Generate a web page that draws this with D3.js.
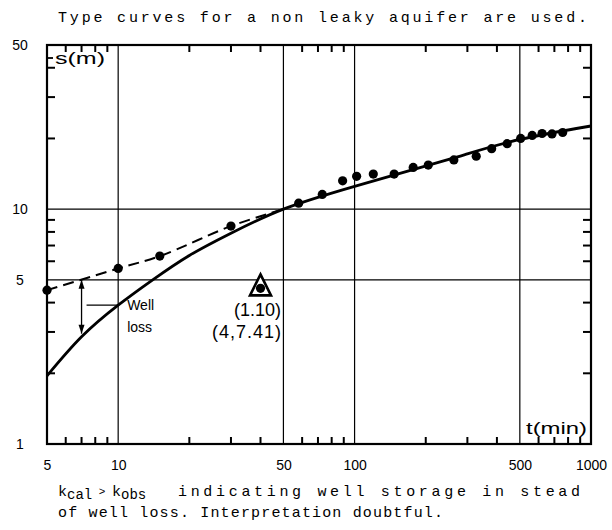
<!DOCTYPE html>
<html>
<head>
<meta charset="utf-8">
<script src="https://cdn.jsdelivr.net/npm/d3@7"></script>
<style>
  body { margin: 0; background: #fff; }
  svg { display: block; }
  .mono { font-family: "Liberation Mono", "Courier New", monospace; }
  .sans { font-family: "Liberation Sans", Arial, sans-serif; }
</style>
</head>
<body>
<svg id="chart"></svg>
<script>
// time (min) / drawdown (m)
const obsT = [5, 10, 15, 30, 40, 58, 73, 89, 102, 120, 147, 177, 205, 263, 327, 380, 442, 504, 564, 621, 684, 759];
const obsS = [4.52, 5.59, 6.31, 8.47, 4.6, 10.6, 11.55, 13.2, 13.8, 14.1, 14.1, 15.05, 15.4, 16.2, 16.8, 18.1, 19.0, 20.0, 20.6, 21.0, 20.9, 21.2];

// fitted type curve (solid)
const curveT = [5, 7, 10, 14, 20, 30, 50, 100, 230, 300, 500, 1000];
const curveS = [1.95, 2.86, 3.9, 5.0, 6.35, 7.9, 10, 12.5, 15.9, 17.2, 19.8, 22.6];

// early-time line through the measured points (dashed)
const dashT = [5, 10, 15, 30, 50];
const dashS = [4.52, 5.59, 6.31, 8.47, 10];

// the point marked with a triangle
const markT = 40, markS = 4.6;

// well loss arrow
const wellLossT = 7;
const wellLossTop = 5.0, wellLossBottom = 2.95;
const leaderT = [7.35, 10], leaderS = 3.9;

const xTicks = [5, 10, 50, 100, 500, 1000];
const yTicks = [1, 5, 10, 50];
const xGrid = [10, 50, 100, 500];
const yGrid = [5, 10];
const xMinor = [6, 7, 8, 9, 20, 30, 40, 60, 70, 80, 90, 200, 300, 400, 600, 700, 800, 900];
const yMinor = [2, 3, 4, 6, 7, 8, 9, 20, 30, 40];

const W = 612, H = 530;
const plot = { left: 47, right: 591, top: 45, bottom: 444 };

const svg = d3.select("#chart").attr("width", W).attr("height", H);
svg.append("rect").attr("width", W).attr("height", H).attr("fill", "#fff");

const x = d3.scaleLog().domain([5, 1000]).range([plot.left, plot.right]);
const y = d3.scaleLog().domain([1, 50]).range([plot.bottom, plot.top]);

// grid
svg.append("g").selectAll("line").data(xGrid).join("line")
  .attr("x1", d => x(d)).attr("x2", d => x(d))
  .attr("y1", plot.top).attr("y2", plot.bottom)
  .attr("stroke", "#000").attr("stroke-width", 1.2);
svg.append("g").selectAll("line").data(yGrid).join("line")
  .attr("x1", plot.left).attr("x2", plot.right)
  .attr("y1", d => y(d)).attr("y2", d => y(d))
  .attr("stroke", "#000").attr("stroke-width", 1.2);

// inward minor ticks on all four sides
const ticks = svg.append("g").attr("stroke", "#000").attr("stroke-width", 2);
ticks.selectAll(".tb").data(xMinor).join("line").attr("class", "tb")
  .attr("x1", d => x(d)).attr("x2", d => x(d))
  .attr("y1", plot.bottom).attr("y2", plot.bottom - 7);
ticks.selectAll(".tt").data(xMinor).join("line").attr("class", "tt")
  .attr("x1", d => x(d)).attr("x2", d => x(d))
  .attr("y1", plot.top).attr("y2", plot.top + 7);
ticks.selectAll(".tl").data(yMinor).join("line").attr("class", "tl")
  .attr("x1", plot.left).attr("x2", plot.left + 8)
  .attr("y1", d => y(d)).attr("y2", d => y(d));
ticks.selectAll(".tr").data(yMinor).join("line").attr("class", "tr")
  .attr("x1", plot.right).attr("x2", plot.right - 8)
  .attr("y1", d => y(d)).attr("y2", d => y(d));

// frame
svg.append("rect")
  .attr("x", plot.left).attr("y", plot.top)
  .attr("width", plot.right - plot.left).attr("height", plot.bottom - plot.top)
  .attr("fill", "none").attr("stroke", "#000").attr("stroke-width", 2.2);

// tick labels
const xLab = svg.append("g").attr("transform", `translate(0,${plot.bottom})`)
  .call(d3.axisBottom(x).tickValues(xTicks).tickSize(0).tickPadding(16).tickFormat(d3.format("d")));
xLab.select(".domain").remove();
xLab.selectAll("text").attr("class", "sans").attr("font-size", 14).attr("fill", "#000");

const yLab = svg.append("g").attr("transform", `translate(20,0)`)
  .call(d3.axisLeft(y).tickValues(yTicks).tickSize(0).tickPadding(0).tickFormat(d3.format("d")));
yLab.select(".domain").remove();
yLab.selectAll("text").attr("class", "sans").attr("font-size", 14).attr("fill", "#000")
  .attr("text-anchor", "middle");

const lineGen = (tArr, sArr, curve) => d3.line()
  .x((d, i) => x(tArr[i])).y((d, i) => y(sArr[i]))
  .curve(curve)(tArr);

// dashed early-time line
svg.append("path").attr("d", lineGen(dashT, dashS, d3.curveCatmullRom.alpha(0.5)))
  .attr("fill", "none").attr("stroke", "#000").attr("stroke-width", 2)
  .attr("stroke-dasharray", "11,6");

// type curve
svg.append("path").attr("d", lineGen(curveT, curveS, d3.curveNatural))
  .attr("fill", "none").attr("stroke", "#000").attr("stroke-width", 2.8)
  .attr("stroke-linejoin", "round");

// triangle marker
const mx = x(markT), my = y(markS);
svg.append("path")
  .attr("d", `M${mx},${my - 14}L${mx + 10.5},${my + 7}L${mx - 10.5},${my + 7}Z`)
  .attr("fill", "#fff").attr("stroke", "#000").attr("stroke-width", 2.6);

// measured points
svg.append("g").selectAll("circle").data(obsT).join("circle")
  .attr("cx", d => x(d)).attr("cy", (d, i) => y(obsS[i]))
  .attr("r", 4.6).attr("fill", "#000");

// well loss arrow
const ax = x(wellLossT), aTop = y(wellLossTop), aBot = y(wellLossBottom);
svg.append("line").attr("x1", ax).attr("x2", ax).attr("y1", aTop).attr("y2", aBot)
  .attr("stroke", "#000").attr("stroke-width", 1.3);
svg.append("path").attr("d", `M${ax},${aTop}L${ax + 3},${aTop + 9}L${ax - 3},${aTop + 9}Z`).attr("fill", "#000");
svg.append("path").attr("d", `M${ax},${aBot}L${ax + 3},${aBot - 9}L${ax - 3},${aBot - 9}Z`).attr("fill", "#000");
svg.append("line")
  .attr("x1", x(leaderT[0])).attr("x2", x(leaderT[1]))
  .attr("y1", y(leaderS)).attr("y2", y(leaderS))
  .attr("stroke", "#000").attr("stroke-width", 1.3);

svg.append("text").attr("class", "sans").attr("x", x(10) + 9).attr("y", y(leaderS) + 5)
  .attr("font-size", 14).text("Well");
svg.append("text").attr("class", "sans").attr("x", x(10) + 9).attr("y", y(leaderS) + 27)
  .attr("font-size", 14).text("loss");

// marker annotation
svg.append("text").attr("class", "sans").attr("x", 281).attr("y", my + 28)
  .attr("text-anchor", "end").attr("font-size", 18).text("(1.10)");
svg.append("text").attr("class", "sans").attr("x", 281).attr("y", my + 50)
  .attr("text-anchor", "end").attr("font-size", 18)
  .attr("textLength", 69).text("(4,7.41)");

// axis names inside the frame
svg.append("line").attr("x1", plot.left).attr("x2", plot.left + 6)
  .attr("y1", 58).attr("y2", 58).attr("stroke", "#000").attr("stroke-width", 1.8);
svg.append("text").attr("class", "sans").attr("x", 55).attr("y", 64)
  .attr("font-size", 17).attr("textLength", 50).attr("lengthAdjust", "spacingAndGlyphs").text("s(m)");
svg.append("text").attr("class", "sans").attr("x", 526).attr("y", 434)
  .attr("font-size", 17).attr("textLength", 61).attr("lengthAdjust", "spacingAndGlyphs").text("t(min)");

// typewritten notes
svg.append("text").attr("class", "mono").attr("x", 58).attr("y", 22)
  .attr("font-size", 15).attr("textLength", 529).text("Type curves for a non leaky aquifer are used.");

const note = svg.append("text").attr("class", "mono").attr("x", 58).attr("y", 496).attr("font-size", 15);
note.append("tspan").text("k");
note.append("tspan").attr("dy", 3).attr("font-size", 14).text("cal");
note.append("tspan").attr("dy", -4).attr("font-size", 11).text(" > ");
note.append("tspan").attr("dy", 1).text("k");
note.append("tspan").attr("dy", 3).attr("font-size", 14).text("obs");
svg.append("text").attr("class", "mono").attr("x", 178).attr("y", 496).attr("font-size", 15)
  .attr("textLength", 402).text("indicating well storage in stead");
svg.append("text").attr("class", "mono").attr("x", 58).attr("y", 517).attr("font-size", 15)
  .attr("textLength", 385).text("of well loss. Interpretation doubtful.");
</script>
</body>
</html>
